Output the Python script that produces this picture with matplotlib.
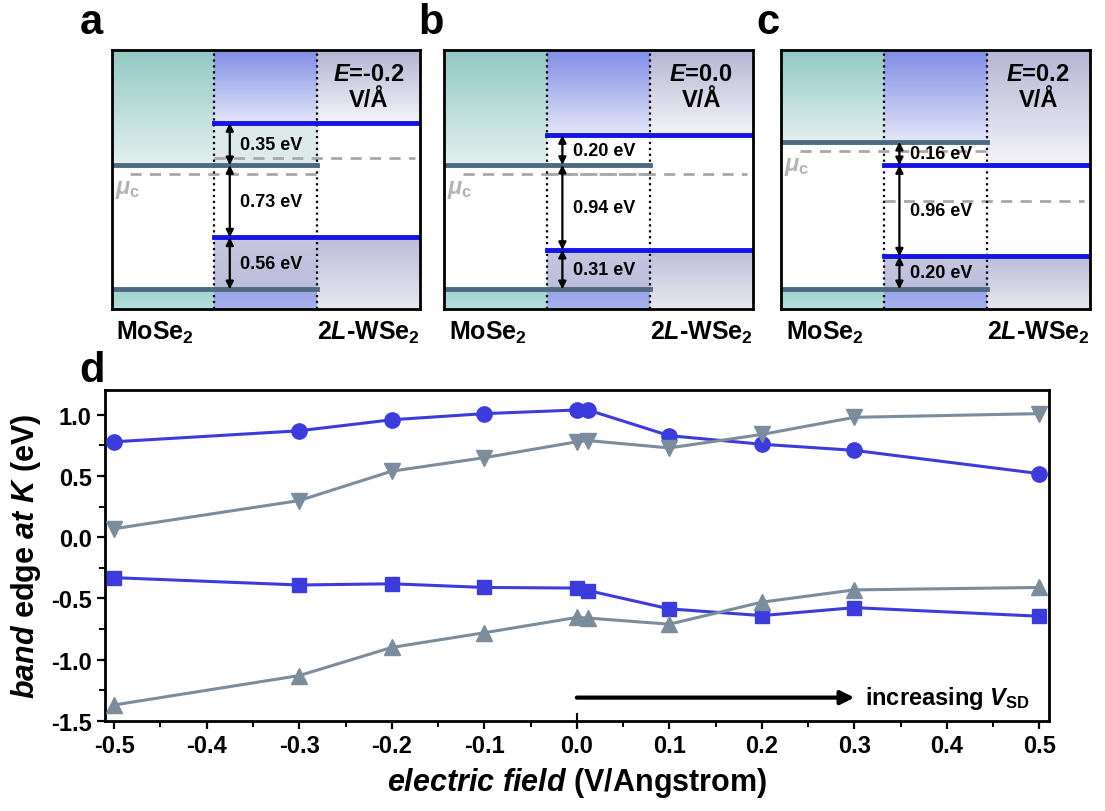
import numpy as np
import matplotlib
matplotlib.use("Agg")
import matplotlib.pyplot as plt
from matplotlib.colors import LinearSegmentedColormap
from matplotlib.ticker import MultipleLocator

plt.rcParams['font.family'] = ['Liberation Sans', 'DejaVu Sans']
plt.rcParams['font.weight'] = 'bold'
plt.rcParams['axes.labelweight'] = 'bold'
plt.rcParams['axes.unicode_minus'] = False
plt.rcParams['mathtext.fontset'] = 'custom'
plt.rcParams['mathtext.rm'] = 'Liberation Sans:bold'
plt.rcParams['mathtext.it'] = 'Liberation Sans:italic:bold'
plt.rcParams['mathtext.bf'] = 'Liberation Sans:bold'

# ---- data: panel d ----
field = [-0.5, -0.3, -0.2, -0.1, 0.0, 0.012, 0.1, 0.2, 0.3, 0.5]
wse2_cb = [0.78, 0.87, 0.96, 1.01, 1.04, 1.04, 0.83, 0.76, 0.71, 0.52]
mose2_cb = [0.07, 0.30, 0.54, 0.65, 0.78, 0.79, 0.73, 0.84, 0.98, 1.01]
wse2_vb = [-0.33, -0.39, -0.38, -0.41, -0.415, -0.435, -0.585, -0.64, -0.575, -0.645]
mose2_vb = [-1.37, -1.13, -0.90, -0.78, -0.655, -0.66, -0.71, -0.53, -0.43, -0.41]
x_ticks = [-0.5, -0.4, -0.3, -0.2, -0.1, 0.0, 0.1, 0.2, 0.3, 0.4, 0.5]
x_labels = ['-0.5', '-0.4', '-0.3', '-0.2', '-0.1', '0.0', '0.1', '0.2', '0.3', '0.4', '0.5']
y_ticks = [-1.5, -1.0, -0.5, 0.0, 0.5, 1.0]
y_labels = ['-1.5', '-1.0', '-0.5', '0.0', '0.5', '1.0']

# ---- data: schematic panels a-c (schematic height units) ----
panel_tags = ['a', 'b', 'c']
panel_fields = ['-0.2', '0.0', '0.2']
sch_wse2_cb = [186, 174, 144]
sch_mose2_cb = [144, 144.3, 167.3]
sch_wse2_vb = [71.7, 59.3, 52.7]
sch_mose2_vb = [20, 20, 20]
sch_mu_left = [135, 135, 158.3]
sch_mu_right = [150.7, 135, 107.7]
gap_top = ['0.35 eV', '0.20 eV', '0.16 eV']
gap_mid = ['0.73 eV', '0.94 eV', '0.96 eV']
gap_bot = ['0.56 eV', '0.31 eV', '0.20 eV']
mid_tint = ['#dcebea', '#ffffff', '#ffffff']

BLUE = '#3c3cdc'
GRAY = '#7b8d9d'
LBLUE = '#1414e6'
LGRAY = '#4d6a80'
DASH = '#a8a8a8'


def grad(ax, x0, x1, y0, y1, c_bot, c_top):
    cm = LinearSegmentedColormap.from_list('g', [c_bot, c_top])
    ax.imshow(np.linspace(0, 1, 64).reshape(-1, 1), cmap=cm, origin='lower',
              extent=(x0, x1, y0, y1), aspect='auto', zorder=0)


fig = plt.figure(figsize=(11.05, 8.12), dpi=100)
H = 259
lefts = [0.101, 0.402, 0.707]
for i in range(3):
    ax = fig.add_axes([lefts[i], 0.618, 0.279, 0.319])
    cbw, cbm = sch_wse2_cb[i], sch_mose2_cb[i]
    vbw, vbm = sch_wse2_vb[i], sch_mose2_vb[i]
    # left column (MoSe2)
    grad(ax, 0, 1, cbm, H, '#e2f0ef', '#92c8c4')
    grad(ax, 0, 1, 0, vbm, '#b4dedb', '#9fd3cf')
    # middle column
    top_m = max(cbw, cbm)
    grad(ax, 1, 2, top_m, H, '#e3e6f8', '#7f8de6')
    if cbw > cbm:
        ax.fill_between([1, 2], cbm, cbw, color=mid_tint[i], zorder=0)
    grad(ax, 1, 2, vbm, vbw, '#bcbedb', '#c6c6e0')
    grad(ax, 1, 2, 0, vbm, '#a8b2ec', '#95a2e6')
    # right column (2L-WSe2)
    grad(ax, 2, 3, cbw, H, '#f4f4f8', '#b4b4d4')
    grad(ax, 2, 3, 0, vbw, '#e8e8f0', '#bcbcd9')

    ax.axvline(1, color='k', ls=':', lw=1.6, zorder=3)
    ax.axvline(2, color='k', ls=':', lw=1.6, zorder=3)
    ax.plot([0, 2], [cbm, cbm], color=LGRAY, lw=3.5, zorder=4)
    ax.plot([0, 2], [vbm, vbm], color=LGRAY, lw=3.5, zorder=4)
    ax.plot([1, 3], [cbw, cbw], color=LBLUE, lw=3.5, zorder=4)
    ax.plot([1, 3], [vbw, vbw], color=LBLUE, lw=3.5, zorder=4)
    ax.plot([0.18, 2], [sch_mu_left[i]] * 2, color=DASH, ls=(0, (4, 3)), lw=2, zorder=2)
    ax.plot([1, 2.95], [sch_mu_right[i]] * 2, color=DASH, ls=(0, (4, 3)), lw=2, zorder=2)
    ax.text(0.03, sch_mu_left[i] - 3, r'$\mu_{\rm c}$', color='#b4b4b4', fontsize=17,
            ha='left', va='top', zorder=5)

    # gap arrows
    top_hi, top_lo = max(cbw, cbm), min(cbw, cbm)
    levels = [(top_hi, top_lo, gap_top[i]), (top_lo, vbw, gap_mid[i]), (vbw, vbm, gap_bot[i])]
    for hi, lo, lab in levels:
        ax.annotate('', xy=(1.15, lo), xytext=(1.15, hi),
                    arrowprops=dict(arrowstyle='<|-|>', color='k', lw=1.6,
                                    mutation_scale=11, shrinkA=0, shrinkB=0), zorder=6)
        ax.text(1.25, (hi + lo) / 2, lab, fontsize=13, ha='left', va='center', zorder=6)

    ax.text(2.5, 236, r'$E$=' + panel_fields[i], fontsize=17, ha='center', va='center')
    ax.text(2.5, 210, 'V/Å', fontsize=17, ha='center', va='center')

    ax.set_xlim(0, 3)
    ax.set_ylim(0, H)
    ax.set_xticks([])
    ax.set_yticks([])
    for s in ax.spines.values():
        s.set_linewidth(2)
        s.set_zorder(10)

    fig.text(lefts[i] + 0.004, 0.581, r'MoSe$_2$', fontsize=18, ha='left', va='baseline')
    fig.text(lefts[i] + 0.279, 0.581, r'2$L$-WSe$_2$', fontsize=18, ha='right', va='baseline')

for tag, x in zip(panel_tags, [0.083, 0.39, 0.695]):
    fig.text(x, 1 - 33.5 / 812, tag, fontsize=30, ha='center', va='baseline')
fig.text(0.083, 1 - 382 / 812, 'd', fontsize=30, ha='center', va='baseline')

# ---- panel d ----
ax = fig.add_axes([0.095, 0.111, 0.854, 0.407])
kw = dict(lw=2.2, clip_on=False, zorder=3)
ax.plot(field, wse2_cb, color=BLUE, marker='o', ms=11, **kw)
ax.plot(field, mose2_cb, color=GRAY, marker='v', ms=12, **kw)
ax.plot(field, wse2_vb, color=BLUE, marker='s', ms=10, **kw)
ax.plot(field, mose2_vb, color=GRAY, marker='^', ms=12, **kw)

ax.annotate('', xy=(0.30, -1.31), xytext=(0.0, -1.31),
            arrowprops=dict(arrowstyle='-|>', color='k', lw=3, mutation_scale=20,
                            shrinkA=0, shrinkB=0))
ax.plot([0, 0], [-1.5, -1.44], color='k', lw=1.5)
ax.text(0.311, -1.31, r'increasing $V_{\rm SD}$', fontsize=17, ha='left', va='center')

ax.set_xlim(-0.51, 0.51)
ax.set_ylim(-1.5, 1.2)
ax.xaxis.set_minor_locator(MultipleLocator(0.05))
ax.yaxis.set_minor_locator(MultipleLocator(0.25))
ax.set_xticks(x_ticks)
ax.set_xticklabels(x_labels, fontweight='bold')
ax.set_yticks(y_ticks)
ax.set_yticklabels(y_labels, fontweight='bold')
ax.tick_params(which='major', direction='out', length=6, width=1.6, labelsize=17)
ax.tick_params(which='minor', direction='out', length=4, width=1.4)
for s in ax.spines.values():
    s.set_linewidth(2)
ax.set_xlabel(r'$electric$ $field$ (V/Angstrom)', fontsize=22, fontweight='bold', labelpad=6)
ax.set_ylabel(r'$band$ edge $at$ $K$ (eV)', fontsize=22, fontweight='bold', labelpad=6)

fig.savefig('out.png', dpi=100)
